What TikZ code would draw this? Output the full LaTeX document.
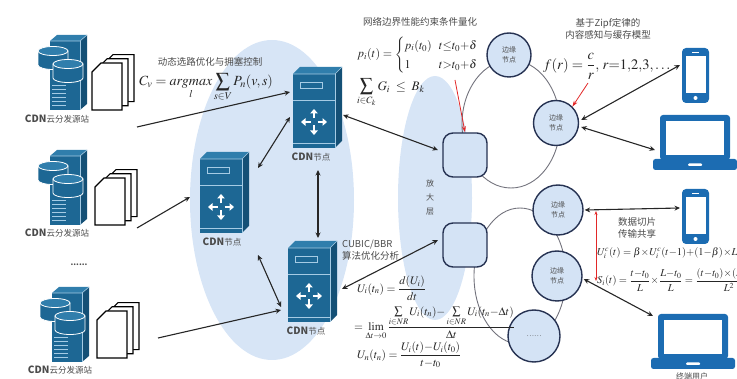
\documentclass[tikz,border=0pt]{standalone}
\usepackage[no-math]{fontspec}
\usepackage{amsmath}
\usepackage{mathptmx}
\newfontfamily\cjk{Noto Sans CJK SC}
\usetikzlibrary{arrows.meta}

\definecolor{layerblue}{RGB}{215,229,246}
\definecolor{nodefill}{RGB}{212,227,245}
\definecolor{nodeedge}{RGB}{38,50,82}
\definecolor{srv}{RGB}{29,103,148}
\definecolor{srvtop}{RGB}{48,126,172}
\definecolor{srvside}{RGB}{20,80,118}
\definecolor{srvline}{RGB}{165,203,228}
\definecolor{dev}{RGB}{28,108,178}
\definecolor{txt}{RGB}{75,75,75}
\definecolor{ring}{RGB}{115,115,125}
\definecolor{hint}{RGB}{226,40,40}

% compact operators used in the formulas
\newcommand{\tm}{\mathbin{\!\times\!}}
\newcommand{\mn}{\mathord{-}}
\newcommand{\pl}{\mathord{+}}

\tikzset{
  lbl/.style={font={\cjk\fontsize{8}{14}\selectfont}, text=txt, inner sep=0pt, align=center},
  capt/.style={font={\cjk\fontsize{9.5}{12}\selectfont}, text=txt, inner sep=0pt, align=center},
  sitelbl/.style={font={\cjk\fontsize{8.5}{10}\selectfont}, text=txt, inner sep=0pt},
  fml/.style={font={\fontsize{11.5}{13}\selectfont}, text=black!85, inner sep=0pt},
  edgen/.style={circle, draw=nodeedge, line width=1.4pt, fill=nodefill, minimum size=50pt,
    inner sep=0pt, align=center, font={\cjk\fontsize{7}{10}\selectfont}, text=txt},
  hub/.style={rectangle, rounded corners=10pt, draw=nodeedge, line width=1.4pt, fill=nodefill,
    minimum size=44pt, inner sep=0pt},
  tipx/.tip={Stealth[length=5.5pt,width=5pt]},
  link/.style={line width=1.1pt, black!85},
  hintarrow/.style={hint, line width=0.8pt},
  % rack server with routing arrows
  pics/cdnserver/.style={code={
    \fill[srvtop] (0,7) -- (7,0) -- (49,0) -- (42,7) -- cycle;
    \fill[srvside] (42,7) -- (49,0) -- (49,74) -- (42,81) -- cycle;
    \fill[srv] (0,7) rectangle (42,81);
    \draw[srvline, line width=0.6pt] (0,7) -- (42,7) -- (49,0);
    \draw[srvline, line width=0.6pt] (42,7) -- (42,81);
    \draw[srvline, line width=0.8pt] (7,15) rectangle (29,21);
    \draw[srvline, line width=0.7pt] (0,33) -- (42,33);
    \draw[srvline, line width=0.7pt] (0,76) -- (42,76);
    \foreach \a in {0,90,180,270}
      \draw[white, line width=2.4pt, -{Triangle[length=4.5pt,width=7.5pt]}]
        ([shift={(\a:3.5pt)}]21,55) -- ([shift={(\a:13pt)}]21,55);
  }},
  % storage tower with two disks
  pics/dbserver/.style={code={
    \fill[srvtop] (0,6) -- (7,0) -- (37,0) -- (30,6) -- cycle;
    \fill[srvside] (30,6) -- (37,0) -- (37,69) -- (30,75) -- cycle;
    \fill[srv] (0,6) rectangle (30,75);
    \draw[srvline, line width=0.6pt] (0,6) -- (30,6) -- (37,0);
    \draw[srvline, line width=0.6pt] (30,6) -- (30,75);
    \foreach \yy in {50,54,58,62,66,70}
      \draw[srvline, line width=0.8pt] (2,\yy) -- (16,\yy);
    \foreach \cx/\ty in {3/16, 18/29} {
      \filldraw[fill=srv, draw=white, line width=0.8pt]
        ([xshift=-15pt]\cx,\ty) -- ([xshift=-15pt]\cx,\ty+14)
        arc[start angle=180, end angle=360, x radius=15pt, y radius=4.5pt]
        -- ([xshift=15pt]\cx,\ty) -- cycle;
      \filldraw[fill=srvtop, draw=white, line width=0.8pt]
        (\cx,\ty) ellipse [x radius=15pt, y radius=4.5pt];
    }
  }},
  % stack of document pages
  pics/docstack/.style={code={
    \foreach \o in {12,6,0}
      \filldraw[fill=white, draw=black, line width=1.1pt, shift={(\o,-0.7*\o)}]
        (0,9) -- (9,0) -- (30,0) -- (30,47) -- (0,47) -- cycle;
  }},
  pics/phone/.style={code={
    \fill[dev, rounded corners=4pt] (0,0) rectangle (27,55);
    \fill[white] (3.5,8) rectangle (23.5,45);
    \draw[white, line width=0.9pt] (10,4) -- (17,4);
    \fill[white] (13.5,50) circle [radius=2pt];
  }},
  pics/laptop/.style={code={
    \fill[dev, rounded corners=3pt] (7,0) rectangle (77,45);
    \fill[white] (13,6) rectangle (71,40);
    \fill[dev, rounded corners=2.5pt] (0,44) rectangle (84,55);
    \fill[white, rounded corners=1pt] (35,48.5) rectangle (49,51);
  }}
}

\begin{document}
\begin{tikzpicture}[x=1pt, y=-1pt]
\useasboundingbox (0,0) rectangle (737,379);
\clip (0,0) rectangle (737,379);

% CDN layer and amplification layer
\fill[layerblue] (272,200) ellipse [x radius=82pt, y radius=160pt];
\fill[layerblue] (435,198) ellipse [x radius=37pt, y radius=122pt];

% edge rings
\draw[ring, line width=0.9pt] (511,124) ellipse [x radius=49pt, y radius=64pt];
\draw[ring, line width=0.9pt] (520,276) ellipse [x radius=46pt, y radius=68pt];

% origin sites
\pic at (50,35) {dbserver};
\pic at (92,63) {docstack};
\node[sitelbl] (src1) at (57,119) {{\fontsize{10}{10}\selectfont\bfseries CDN}云分发源站};
\pic at (50,150) {dbserver};
\pic at (95,178) {docstack};
\node[sitelbl] (src2) at (57,233) {{\fontsize{10}{10}\selectfont\bfseries CDN}云分发源站};
\node[lbl, font={\cjk\bfseries\fontsize{8}{10}\selectfont}] (dots) at (79,265) {......};
\pic at (52,287) {dbserver};
\pic at (97,311) {docstack};
\node[sitelbl] (src3) at (60,370) {{\fontsize{10}{10}\selectfont\bfseries CDN}云分发源站};

% CDN nodes
\pic at (293,67) {cdnserver};
\node[sitelbl] (cdn1) at (311,157) {{\fontsize{10}{10}\selectfont\bfseries CDN}节点};
\pic at (200,152) {cdnserver};
\node[sitelbl] (cdn2) at (222,242) {{\fontsize{10}{10}\selectfont\bfseries CDN}节点};
\pic at (288,241) {cdnserver};
\node[sitelbl] (cdn3) at (306,331) {{\fontsize{10}{10}\selectfont\bfseries CDN}节点};

% amplification and edge nodes
\node[hub] (h1) at (465,155) {};
\node[hub] (h2) at (465,245) {};
\node[edgen, minimum size=44pt] (e1) at (509,55) {边缘\\节点};
\node[edgen, minimum size=45pt] (e2) at (556,123) {边缘\\节点};
\node[edgen] (e3) at (558,210) {边缘\\节点};
\node[edgen] (e4) at (557,276) {边缘\\节点};
\node[edgen, minimum size=52pt] (e5) at (534,336) {……};
\node[lbl] (amp) at (430,197) {放\\大\\层};

% terminals
\pic at (682,48) {phone};
\pic at (653,115) {laptop};
\pic at (682,189) {phone};
\pic at (651,314) {laptop};
\node[lbl] (user) at (692,376) {终端用户};

% captions and formulas
\node[capt] (cap1) at (210,62) {动态选路优化与拥塞控制};
\node[fml, anchor=west, font={\fontsize{14}{16}\selectfont}] (fc) at (139,87)
  {$\displaystyle C_{v} = \mathop{argmax}\limits_{l}\sum_{s\in V}P_{n}(v,s)$};
\node[capt] (cap2) at (420,22) {网络边界性能约束条件量化};
\node[fml, anchor=west, font={\fontsize{12}{14}\selectfont}] (fp) at (357,55)
  {\renewcommand{\arraystretch}{1.4}$p_i(t)=\left\{\begin{array}{@{}l@{\hspace{7pt}}l@{}}
     p_i(t_0) & t{\le}t_0\pl\delta\\ 1 & t{>}t_0\pl\delta\end{array}\right.$};
\node[fml, anchor=west, font={\fontsize{13}{15}\selectfont}] (fg) at (357,93)
  {$\displaystyle\sum_{i\in C_k} G_i \;\le\; B_k$};
\node[capt] (cap3) at (608,29) {基于Zipf定律的\\内容感知与缓存模型};
\node[fml, anchor=west, font={\fontsize{14.5}{16}\selectfont}] (fz) at (543,66)
  {$f(r) = \dfrac{c}{r},\, r{=}1{,}2{,}3{,}\ldots$};
\node[capt, anchor=west, align=left] (cap4) at (342,250) {CUBIC/BBR\\算法优化分析};
\node[fml, anchor=west] (fu1) at (357,288) {$U_i(t_n) = \dfrac{d(U_i)}{dt}$};
\node[fml, anchor=west] (fu2) at (354,323)
  {$= \lim\limits_{\Delta t\to 0}\dfrac{\sum\limits_{i\in NR}U_i(t_n)\mn\sum\limits_{i\in NR}U_i(t_n\mn\Delta t)}{\Delta t}$};
\node[fml, anchor=west] (fu3) at (357,355) {$U_n(t_n) = \dfrac{U_i(t)\mn U_i(t_0)}{t\mn t_0}$};
\node[capt] (cap5) at (637,228) {数据切片\\传输共享};
\node[fml, anchor=west, font={\fontsize{10.5}{12}\selectfont}] (fuc) at (597,253)
  {$U^c_i(t) = \beta\tm U^c_i(t\mn 1)\pl(1\mn\beta)\tm L_i(t)$};
\node[fml, anchor=west, font={\fontsize{10.5}{12}\selectfont}] (fs) at (597,280)
  {$S_i(t) = \dfrac{t\mn t_0}{L}\tm\dfrac{L\mn t_0}{L}=\dfrac{(t\mn t_0)\tm(L\mn t_0)}{L^2}$};

% connector end points
\coordinate (s1) at (137,127);   \coordinate (c1in) at (290,92);
\coordinate (s2) at (137,228);   \coordinate (c2in) at (190,197);
\coordinate (s3) at (158,338);   \coordinate (c3in) at (281,310);
\coordinate (c1a) at (290,117);  \coordinate (c2a) at (258,168);
\coordinate (c1b) at (318,170);  \coordinate (c3b) at (318,238);
\coordinate (c2b) at (258,255);  \coordinate (c3a) at (281,307);
\coordinate (c1r) at (343,115);  \coordinate (h1l) at (438,150);
\coordinate (c3r) at (342,289);  \coordinate (h2l) at (438,240);
\coordinate (ph1) at (680,65);   \coordinate (lp1) at (655,150);
\coordinate (ph2) at (680,208);  \coordinate (lp2) at (653,316);
\coordinate (dq) at (455,80);    \coordinate (zq) at (588,83);
\coordinate (rs1) at (596,211);  \coordinate (rs2) at (596,281);

% links
\draw[link, -tipx] (s1) -- (c1in);
\draw[link, -tipx] (s2) -- (c2in);
\draw[link, -tipx] (s3) -- (c3in);
\draw[link, tipx-tipx] (c1a) -- (c2a);
\draw[link, tipx-tipx] (c1b) -- (c3b);
\draw[link, tipx-tipx] (c2b) -- (c3a);
\draw[link, tipx-tipx] (c1r) -- (h1l);
\draw[link, tipx-tipx] (c3r) -- (h2l);
\draw[link, tipx-tipx] ([shift={(2,-3)}]e2.east) -- (ph1);
\draw[link, tipx-tipx] ([shift={(2,4)}]e2.east) -- (lp1);
\draw[link, tipx-tipx] ([xshift=1pt]e3.east) -- (ph2);
\draw[link, tipx-tipx] ([shift={(1,3)}]e4.east) -- (lp2);

% constraint hints
\draw[hintarrow, -{Stealth[length=6pt,width=4pt]}] (dq) -- (h1.north);
\draw[hintarrow, -{Stealth[length=6pt,width=4pt]}] (zq) -- (e2.north east);
\draw[hintarrow, {Stealth[length=4pt,width=3pt]}-{Stealth[length=4pt,width=3pt]}] (rs1) -- (rs2);
\end{tikzpicture}
\end{document}
